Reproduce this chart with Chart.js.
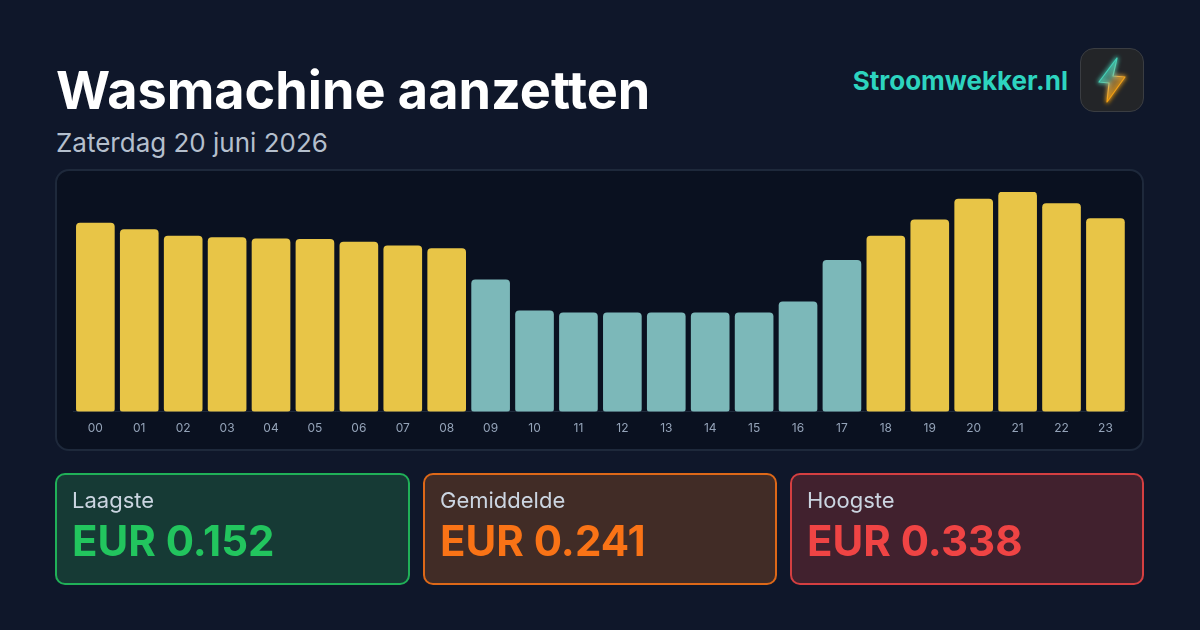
<!DOCTYPE html>
<html lang="nl">
<head>
<meta charset="utf-8">
<title>Wasmachine aanzetten</title>
<script src="https://cdn.jsdelivr.net/npm/chart.js@4/dist/chart.umd.min.js"></script>
<style>
    html, body { margin: 0; padding: 0; }
    body {
        width: 1200px;
        height: 630px;
        overflow: hidden;
        position: relative;
        background: #0f172a;
        font-family: Inter, sans-serif;
    }
    h1 {
        position: absolute;
        left: 56px;
        top: 59px;
        margin: 0;
        font-size: 52.2px;
        line-height: 62px;
        font-weight: 700;
        color: #fff;
    }
    .sub {
        position: absolute;
        left: 56px;
        top: 126px;
        font-size: 26px;
        line-height: 33px;
        color: #b4bfcd;
    }
    .brand {
        position: absolute;
        right: 132px;
        top: 64px;
        font-size: 26px;
        line-height: 34px;
        font-weight: 700;
        color: #2dd4bf;
    }
    .logo {
        position: absolute;
        left: 1080px;
        top: 48px;
        width: 62px;
        height: 62px;
        border: 1px solid #3a3d42;
        border-radius: 14px;
        background: #232528;
    }
    .logo svg { display: block; }
    .panel {
        position: absolute;
        left: 55px;
        top: 169px;
        width: 1085px;
        height: 278px;
        border: 2px solid #1e293b;
        border-radius: 14px;
        background: #0a1120;
    }
    #chart { position: absolute; left: 0; top: 0; }
    .card {
        position: absolute;
        top: 473px;
        width: 350px;
        height: 108px;
        border: 2px solid;
        border-radius: 10px;
    }
    .card .label {
        position: absolute;
        left: 15px;
        top: 12px;
        font-size: 22px;
        line-height: 26px;
        color: #cbd5e1;
    }
    .card .value {
        position: absolute;
        left: 15px;
        top: 40px;
        font-size: 42px;
        line-height: 52px;
        font-weight: 700;
    }
</style>
</head>
<body>
<h1>Wasmachine aanzetten</h1>
<div class="sub">Zaterdag 20 juni 2026</div>
<div class="brand">Stroomwekker.nl</div>
<div class="logo">
    <svg width="62" height="62" viewBox="0 0 62 62">
        <defs>
            <linearGradient id="bolt" x1="0.2" y1="0.25" x2="0.6" y2="0.8">
                <stop offset="0" stop-color="#2dd4bf"/>
                <stop offset="0.45" stop-color="#6fcaa8"/>
                <stop offset="0.65" stop-color="#e8b04a"/>
                <stop offset="1" stop-color="#f59e0b"/>
            </linearGradient>
            <filter id="glow" x="-60%" y="-60%" width="220%" height="220%">
                <feGaussianBlur stdDeviation="2.2"/>
            </filter>
        </defs>
        <path d="M36 9 L18 33 L28 34 L26 53 L44 28 L32 27 Z" fill="url(#bolt)" fill-opacity="0.35" stroke="url(#bolt)" stroke-width="2.5" filter="url(#glow)" stroke-linejoin="round"/>
        <path d="M36 9 L18 33 L28 34 L26 53 L44 28 L32 27 Z" fill="url(#bolt)" fill-opacity="0.3" stroke="url(#bolt)" stroke-width="1.2" stroke-linejoin="round"/>
    </svg>
</div>
<div class="panel"></div>
<canvas id="chart"></canvas>
<div class="card" style="left:55px;background:#163a35;border-color:rgba(34,197,94,0.85);width:351px">
    <div class="label">Laagste</div>
    <div class="value" style="color:#22c55e">EUR 0.152</div>
</div>
<div class="card" style="left:423px;background:#412c26;border-color:rgba(249,115,22,0.85)">
    <div class="label">Gemiddelde</div>
    <div class="value" style="color:#f97316">EUR 0.241</div>
</div>
<div class="card" style="left:790px;background:#41212e;border-color:rgba(239,68,68,0.85)">
    <div class="label">Hoogste</div>
    <div class="value" style="color:#ef4444">EUR 0.338</div>
</div>
<script>
const hours = ['00', '01', '02', '03', '04', '05', '06', '07', '08', '09', '10', '11',
    '12', '13', '14', '15', '16', '17', '18', '19', '20', '21', '22', '23'];
const prices = [0.290, 0.280, 0.270, 0.268, 0.266, 0.265, 0.261, 0.255, 0.251, 0.203, 0.155, 0.152,
    0.152, 0.152, 0.152, 0.152, 0.169, 0.233, 0.270, 0.295, 0.327, 0.338, 0.320, 0.297];
const bestHours = ['09', '10', '11', '12', '13', '14', '15', '16', '17'];

const canvas = document.getElementById('chart');
canvas.width = 1200;
canvas.height = 630;
canvas.style.width = '1200px';
canvas.style.height = '630px';

new Chart(canvas.getContext('2d'), {
    type: 'bar',
    data: {
        labels: hours,
        datasets: [{
            data: prices,
            backgroundColor: hours.map((h) => bestHours.includes(h) ? '#7cb8b9' : '#e8c547'),
            borderRadius: { topLeft: 4, topRight: 4, bottomLeft: 3, bottomRight: 3 },
            borderSkipped: false,
            barThickness: 38
        }]
    },
    options: {
        responsive: false,
        animation: false,
        devicePixelRatio: 1,
        layout: {
            padding: { left: 73.4, right: 72.6, top: 192, bottom: 184 }
        },
        plugins: {
            legend: { display: false },
            tooltip: { enabled: false }
        },
        scales: {
            x: {
                offset: true,
                grid: { display: false, drawTicks: false },
                border: { color: '#1e293b', width: 1 },
                ticks: {
                    color: '#94a3b8',
                    font: { family: 'Inter', size: 12 },
                    padding: 10,
                    maxRotation: 0,
                    autoSkip: false
                }
            },
            y: {
                display: false,
                min: 0,
                max: 0.338
            }
        }
    }
});
</script>
</body>
</html>
